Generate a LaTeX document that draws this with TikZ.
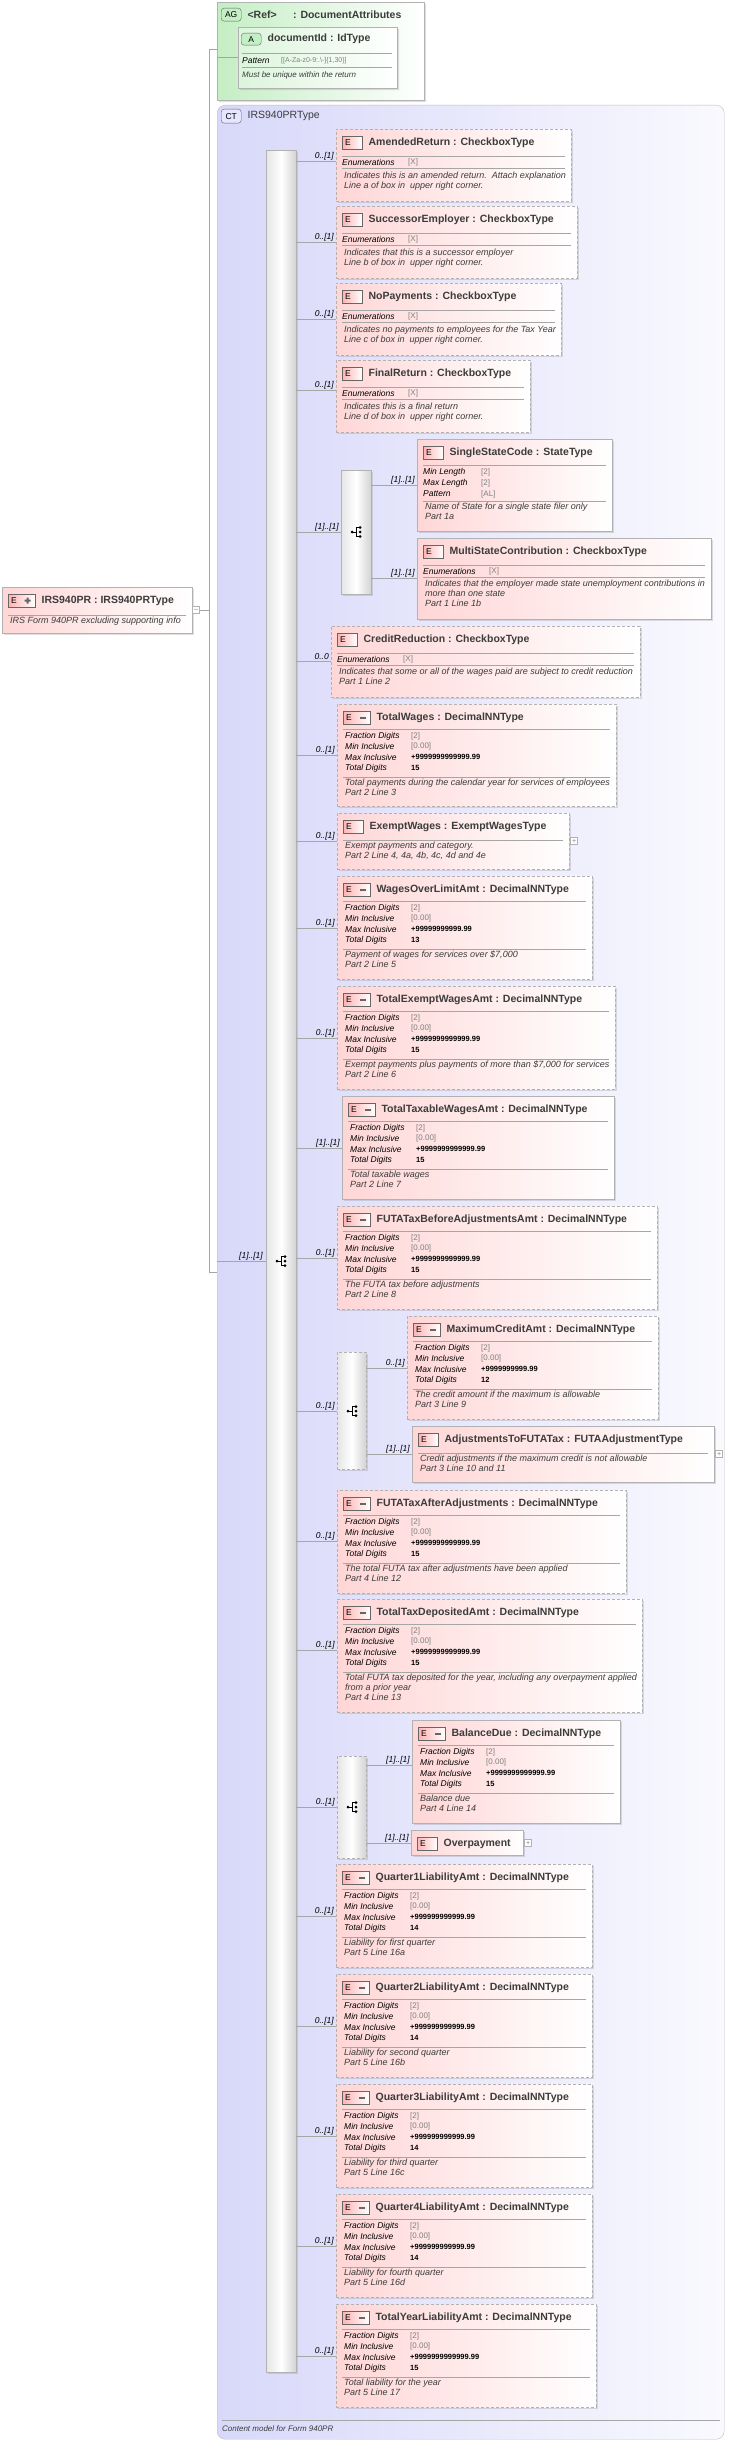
\documentclass[tikz,border=0pt]{standalone}
\usepackage{fontspec}
\setmainfont{Liberation Sans}
\usetikzlibrary{positioning,shapes.misc,shadows}

\definecolor{pinkbg}{RGB}{255,214,214}
\definecolor{lavbg}{RGB}{216,216,250}
\definecolor{greenbg}{RGB}{196,238,196}
\definecolor{darktxt}{RGB}{60,60,60}

\tikzset{
  box/.style={draw=gray!60, inner sep=0pt, anchor=north west,
    drop shadow={opacity=.25, shadow xshift=2pt, shadow yshift=-2pt}},
  ebox/.style={box, left color=pinkbg, right color=white},
  opt/.style={dash pattern=on 3pt off 2pt},
  bar/.style={box, left color=gray!20, right color=gray!35, middle color=white},
  eicon/.style={draw=gray!80!black, left color=red!30, right color=white, inner sep=0pt,
    minimum height=13pt, anchor=north west, font=\fontsize{8}{8}\selectfont},
  etitle/.style={anchor=west, inner sep=0pt, text=darktxt, font=\fontsize{10.5}{12}\selectfont\bfseries},
  fkey/.style={anchor=west, inner sep=0pt, font=\fontsize{8.5}{9}\selectfont\itshape},
  fval/.style={anchor=west, inner sep=0pt, text=gray, font=\fontsize{8}{9}\selectfont},
  fnum/.style={anchor=west, inner sep=0pt, font=\fontsize{7.5}{9}\selectfont\bfseries},
  desc/.style={anchor=north west, inner sep=0pt, align=left, text=darktxt,
    font=\fontsize{9}{10}\selectfont\itshape},
  sep/.style={draw=gray!70},
  conn/.style={draw=gray!70},
  mult/.style={inner sep=0pt, anchor=south east, font=\fontsize{8.5}{9}\selectfont\itshape},
  plusbox/.style={draw=gray!60, fill=white, minimum size=7pt, inner sep=0pt, anchor=west,
    font=\fontsize{7}{7}\selectfont, text=gray},
  pics/comp/.style={code={
    \fill (-6,0) circle (1.5);
    \draw (-6,0) -- (-2,0) (2,-4.5) -- (-2,-4.5) -- (-2,4.5) -- (2,4.5);
    \fill (2,-4.5) circle (1.5) (2,0) circle (1.5) (2,4.5) circle (1.5);
  }}
}

% element box header, separator lines, rows
\newcommand{\ehead}[3]{%
  \node[eicon, minimum width=#2] (#1-i) at ([shift={(6,7)}]#1.north west) {};
  \node[inner sep=0pt, font=\fontsize{8.5}{8}\selectfont] at ([xshift=6pt]#1-i.west) {E};
  \node[etitle] at ([xshift=6pt]#1-i.east) {#3};}
\newcommand{\minus}[1]{\fill[gray!80!black] ([shift={(3,-1)}]#1-i.center) rectangle ([shift={(9,1)}]#1-i.center);}
\newcommand{\hsep}[2]{\draw[sep] ([shift={(6,#2)}]#1.north west) -- ([shift={(-6,#2)}]#1.north east);}
\newcommand{\enumrow}[1]{%
  \hsep{#1}{27}\hsep{#1}{39}
  \node[fkey] at ([shift={(6,33)}]#1.north west) {Enumerations};
  \node[fval] at ([shift={(72,33)}]#1.north west) {[X]};}
\newcommand{\facets}[4]{%
  \hsep{#1}{25}\hsep{#1}{73}
  \node[fkey] at ([shift={(8,32)}]#1.north west) {Fraction Digits};
  \node[fval] at ([shift={(74,32)}]#1.north west) {[#2]};
  \node[fkey] at ([shift={(8,42)}]#1.north west) {Min Inclusive};
  \node[fval] at ([shift={(74,42)}]#1.north west) {[0.00]};
  \node[fkey] at ([shift={(8,53)}]#1.north west) {Max Inclusive};
  \node[fnum] at ([shift={(74,53)}]#1.north west) {#3};
  \node[fkey] at ([shift={(8,64)}]#1.north west) {Total Digits};
  \node[fnum] at ([shift={(74,64)}]#1.north west) {#4};}
\newcommand{\descr}[3]{\node[desc] at ([shift={(8,#2)}]#1.north west) {#3};}
\newcommand{\link}[4]{\draw[conn] (#1.east |- 0,#3) -- (#2.west |- 0,#3)
  node[mult, pos=1, xshift=-2pt, yshift=1pt] {#4};}

\begin{document}
\begin{tikzpicture}[x=1pt,y=-1pt]
  \useasboundingbox[fill=white] (0,0) rectangle (730,2443);

  % attribute group
  \node[box, chamfered rectangle, chamfered rectangle corners={north west,south west},
    chamfered rectangle xsep=0pt, chamfered rectangle ysep=0pt, chamfered rectangle sep=8pt,
    left color=greenbg, right color=white, minimum width=207pt, minimum height=98pt] (ag) at (217,2) {};
  \node[draw=gray!80!black, fill=greenbg, rounded corners=3pt, minimum width=20pt, minimum height=13pt,
    inner sep=0pt, font=\fontsize{8.5}{8}\selectfont, anchor=north west] (ag-i) at (221,8) {AG};
  \node[etitle] at ([xshift=6pt]ag-i.east) {<Ref>\quad\ \ : DocumentAttributes};
  \node[box, chamfered rectangle, chamfered rectangle corners={north west,south west},
    chamfered rectangle xsep=0pt, chamfered rectangle ysep=0pt, chamfered rectangle sep=6pt,
    left color=greenbg!60, right color=white, minimum width=159pt, minimum height=61pt] (attr) at (238,27) {};
  \node[draw=gray!80!black, fill=greenbg, rounded corners=3pt, minimum width=20pt, minimum height=12pt,
    inner sep=0pt, font=\fontsize{8.5}{8}\selectfont, anchor=north west] (attr-i) at (241,33) {A};
  \node[etitle] at ([xshift=6pt]attr-i.east) {documentId : IdType};
  \draw[sep] (242,53) -- (392,53);
  \draw[sep] (242,67) -- (392,67);
  \node[fkey] at (242,61) {Pattern};
  \node[fval, font=\fontsize{7}{8}\selectfont] at (281,61) {[[A-Za-z0-9:.\textbackslash-]\{1,30\}]};
  \node[desc, anchor=west, font=\fontsize{8}{8}\selectfont\itshape] at (242,75) {Must be unique within the return};
  \draw[conn] (ag.west |- 0,57) -- (attr.west |- 0,57);

  % complex type
  \node[draw=gray!50, inner sep=0pt, anchor=north west, rounded corners=8pt,
    left color=lavbg, right color=lavbg!15, minimum width=507pt, minimum height=2334pt] (ct) at (217,105) {};
  \node[draw=gray!80!black, fill=lavbg!80!blue!30, rounded corners=3pt, minimum width=20pt, minimum height=14pt,
    inner sep=0pt, font=\fontsize{8.5}{8}\selectfont, anchor=north west] (ct-i) at (221,109) {CT};
  \node[etitle, font=\fontsize{10.5}{12}\selectfont] at ([xshift=6pt]ct-i.east) {IRS940PRType};
  \draw[sep] (222,2420) -- (720,2420);
  \node[desc, anchor=west, font=\fontsize{8}{8}\selectfont\itshape] at (222,2429) {Content model for Form 940PR};

  % root element
  \node[ebox, minimum width=190pt, minimum height=46pt] (root) at (2,587) {};
  \ehead{root}{27pt}{IRS940PR : IRS940PRType}
  \fill[gray!80!black] ([shift={(3,-1)}]root-i.center) rectangle ([shift={(9,1)}]root-i.center)
    ([shift={(5,-3)}]root-i.center) rectangle ([shift={(7,3)}]root-i.center);
  \hsep{root}{28}
  \descr{root}{30}{IRS Form 940PR excluding supporting info}
  \node[plusbox] (rminus) at (root.east |- 0,610) {--};
  \draw[conn] (rminus.east) -- (209,610);
  \draw[conn] (ag.west |- 0,49) -| (209,1272) -- (ct.west |- 0,1272);

  % sequence bar
  \node[bar, minimum width=30pt, minimum height=2222pt] (seq) at (266,150) {};
  \pic at (283,1261) {comp};
  \draw[conn] (ct.west |- 0,1261) -- (seq.west |- 0,1261) node[mult, pos=1, xshift=-3pt, yshift=1pt] {[1]..[1]};

  % AmendedReturn
  \node[ebox, opt, minimum width=235pt, minimum height=72pt] (amended) at (336,129) {};
  \ehead{amended}{20pt}{AmendedReturn : CheckboxType}
  \enumrow{amended}
  \descr{amended}{43}{Indicates this is an amended return.\ \ Attach explanation\\Line a of box in\ \ upper right corner.}
  \link{seq}{amended}{161}{0..[1]}

  % SuccessorEmployer
  \node[ebox, opt, minimum width=241pt, minimum height=72pt] (successor) at (336,206) {};
  \ehead{successor}{20pt}{SuccessorEmployer : CheckboxType}
  \enumrow{successor}
  \descr{successor}{43}{Indicates that this is a successor employer\\Line b of box in\ \ upper right corner.}
  \link{seq}{successor}{242}{0..[1]}

  % NoPayments
  \node[ebox, opt, minimum width=225pt, minimum height=72pt] (nopay) at (336,283) {};
  \ehead{nopay}{20pt}{NoPayments : CheckboxType}
  \enumrow{nopay}
  \descr{nopay}{43}{Indicates no payments to employees for the Tax Year\\Line c of box in\ \ upper right corner.}
  \link{seq}{nopay}{319}{0..[1]}

  % FinalReturn
  \node[ebox, opt, minimum width=194pt, minimum height=72pt] (final) at (336,360) {};
  \ehead{final}{20pt}{FinalReturn : CheckboxType}
  \enumrow{final}
  \descr{final}{43}{Indicates this is a final return\\Line d of box in\ \ upper right corner.}
  \link{seq}{final}{390}{0..[1]}

  % state choice
  \node[bar, minimum width=30pt, minimum height=124pt] (statechoice) at (341,470) {};
  \pic at (358,532) {comp};
  \link{seq}{statechoice}{532}{[1]..[1]}

  \node[ebox, minimum width=195pt, minimum height=92pt] (single) at (417,439) {};
  \ehead{single}{20pt}{SingleStateCode : StateType}
  \hsep{single}{26}\hsep{single}{62}
  \node[fkey] at ([shift={(6,33)}]single.north west) {Min Length};
  \node[fval] at ([shift={(64,33)}]single.north west) {[2]};
  \node[fkey] at ([shift={(6,44)}]single.north west) {Max Length};
  \node[fval] at ([shift={(64,44)}]single.north west) {[2]};
  \node[fkey] at ([shift={(6,55)}]single.north west) {Pattern};
  \node[fval] at ([shift={(64,55)}]single.north west) {[AL]};
  \descr{single}{64}{Name of State for a single state filer only\\Part 1a}
  \link{statechoice}{single}{485}{[1]..[1]}

  \node[ebox, minimum width=294pt, minimum height=81pt] (multi) at (417,538) {};
  \ehead{multi}{20pt}{MultiStateContribution : CheckboxType}
  \enumrow{multi}
  \descr{multi}{42}{Indicates that the employer made state unemployment contributions in\\more than one state\\Part 1 Line 1b}
  \link{statechoice}{multi}{578}{[1]..[1]}

  % CreditReduction
  \node[ebox, opt, minimum width=309pt, minimum height=71pt] (credit) at (331,626) {};
  \ehead{credit}{20pt}{CreditReduction : CheckboxType}
  \enumrow{credit}
  \descr{credit}{42}{Indicates that some or all of the wages paid are subject to credit reduction\\Part 1 Line 2}
  \link{seq}{credit}{661}{0..0}

  % TotalWages
  \node[ebox, opt, minimum width=279pt, minimum height=102pt] (totwages) at (337,704) {};
  \ehead{totwages}{27pt}{TotalWages : DecimalNNType}\minus{totwages}
  \facets{totwages}{2}{+9999999999999.99}{15}
  \descr{totwages}{75}{Total payments during the calendar year for services of employees\\Part 2 Line 3}
  \link{seq}{totwages}{755}{0..[1]}

  % ExemptWages
  \node[ebox, opt, minimum width=232pt, minimum height=56pt] (exempt) at (337,813) {};
  \ehead{exempt}{20pt}{ExemptWages : ExemptWagesType}
  \hsep{exempt}{27}
  \descr{exempt}{29}{Exempt payments and category.\\Part 2 Line 4, 4a, 4b, 4c, 4d and 4e}
  \node[plusbox] at ([xshift=1pt]exempt.east |- 0,841) {+};
  \link{seq}{exempt}{841}{0..[1]}

  % WagesOverLimitAmt
  \node[ebox, opt, minimum width=255pt, minimum height=103pt] (wagesover) at (337,876) {};
  \ehead{wagesover}{27pt}{WagesOverLimitAmt : DecimalNNType}\minus{wagesover}
  \facets{wagesover}{2}{+99999999999.99}{13}
  \descr{wagesover}{75}{Payment of wages for services over \$7,000\\Part 2 Line 5}
  \link{seq}{wagesover}{928}{0..[1]}

  % TotalExemptWagesAmt
  \node[ebox, opt, minimum width=278pt, minimum height=103pt] (totexempt) at (337,986) {};
  \ehead{totexempt}{27pt}{TotalExemptWagesAmt : DecimalNNType}\minus{totexempt}
  \facets{totexempt}{2}{+9999999999999.99}{15}
  \descr{totexempt}{75}{Exempt payments plus payments of more than \$7,000 for services\\Part 2 Line 6}
  \link{seq}{totexempt}{1038}{0..[1]}

  % TotalTaxableWagesAmt
  \node[ebox, minimum width=272pt, minimum height=103pt] (taxable) at (342,1096) {};
  \ehead{taxable}{27pt}{TotalTaxableWagesAmt : DecimalNNType}\minus{taxable}
  \facets{taxable}{2}{+9999999999999.99}{15}
  \descr{taxable}{75}{Total taxable wages\\Part 2 Line 7}
  \link{seq}{taxable}{1148}{[1]..[1]}

  % FUTATaxBeforeAdjustmentsAmt
  \node[ebox, opt, minimum width=320pt, minimum height=103pt] (futabefore) at (337,1206) {};
  \ehead{futabefore}{27pt}{FUTATaxBeforeAdjustmentsAmt : DecimalNNType}\minus{futabefore}
  \facets{futabefore}{2}{+9999999999999.99}{15}
  \descr{futabefore}{75}{The FUTA tax before adjustments\\Part 2 Line 8}
  \link{seq}{futabefore}{1258}{0..[1]}

  % credit choice
  \node[bar, opt, minimum width=29pt, minimum height=117pt] (creditchoice) at (337,1352) {};
  \pic at (354,1411) {comp};
  \link{seq}{creditchoice}{1411}{0..[1]}

  \node[ebox, opt, minimum width=251pt, minimum height=103pt] (maxcredit) at (407,1316) {};
  \ehead{maxcredit}{27pt}{MaximumCreditAmt : DecimalNNType}\minus{maxcredit}
  \facets{maxcredit}{2}{+9999999999.99}{12}
  \descr{maxcredit}{75}{The credit amount if the maximum is allowable\\Part 3 Line 9}
  \link{creditchoice}{maxcredit}{1368}{0..[1]}

  \node[ebox, minimum width=302pt, minimum height=56pt] (adjust) at (412,1426) {};
  \ehead{adjust}{20pt}{AdjustmentsToFUTATax : FUTAAdjustmentType}
  \hsep{adjust}{27}
  \descr{adjust}{29}{Credit adjustments if the maximum credit is not allowable\\Part 3 Line 10 and 11}
  \node[plusbox] at ([xshift=1pt]adjust.east |- 0,1454) {+};
  \link{creditchoice}{adjust}{1454}{[1]..[1]}

  % FUTATaxAfterAdjustments
  \node[ebox, opt, minimum width=289pt, minimum height=103pt] (futaafter) at (337,1490) {};
  \ehead{futaafter}{27pt}{FUTATaxAfterAdjustments : DecimalNNType}\minus{futaafter}
  \facets{futaafter}{2}{+9999999999999.99}{15}
  \descr{futaafter}{75}{The total FUTA tax after adjustments have been applied\\Part 4 Line 12}
  \link{seq}{futaafter}{1541}{0..[1]}

  % TotalTaxDepositedAmt
  \node[ebox, opt, minimum width=305pt, minimum height=113pt] (deposited) at (337,1599) {};
  \ehead{deposited}{27pt}{TotalTaxDepositedAmt : DecimalNNType}\minus{deposited}
  \facets{deposited}{2}{+9999999999999.99}{15}
  \descr{deposited}{75}{Total FUTA tax deposited for the year, including any overpayment applied\\from a prior year\\Part 4 Line 13}
  \link{seq}{deposited}{1650}{0..[1]}

  % balance choice
  \node[bar, opt, minimum width=29pt, minimum height=102pt] (balchoice) at (337,1756) {};
  \pic at (354,1807) {comp};
  \link{seq}{balchoice}{1807}{0..[1]}

  \node[ebox, minimum width=208pt, minimum height=103pt] (balance) at (412,1720) {};
  \ehead{balance}{27pt}{BalanceDue : DecimalNNType}\minus{balance}
  \facets{balance}{2}{+9999999999999.99}{15}
  \descr{balance}{75}{Balance due\\Part 4 Line 14}
  \link{balchoice}{balance}{1765}{[1]..[1]}

  \node[ebox, minimum width=112pt, minimum height=25pt] (overpay) at (411,1830) {};
  \ehead{overpay}{20pt}{Overpayment}
  \node[plusbox] at ([xshift=1pt]overpay.east |- 0,1843) {+};
  \link{balchoice}{overpay}{1843}{[1]..[1]}

  % quarterly liabilities
  \node[ebox, opt, minimum width=256pt, minimum height=103pt] (q1) at (336,1864) {};
  \ehead{q1}{27pt}{Quarter1LiabilityAmt : DecimalNNType}\minus{q1}
  \facets{q1}{2}{+999999999999.99}{14}
  \descr{q1}{75}{Liability for first quarter\\Part 5 Line 16a}
  \link{seq}{q1}{1916}{0..[1]}

  \node[ebox, opt, minimum width=256pt, minimum height=103pt] (q2) at (336,1974) {};
  \ehead{q2}{27pt}{Quarter2LiabilityAmt : DecimalNNType}\minus{q2}
  \facets{q2}{2}{+999999999999.99}{14}
  \descr{q2}{75}{Liability for second quarter\\Part 5 Line 16b}
  \link{seq}{q2}{2026}{0..[1]}

  \node[ebox, opt, minimum width=256pt, minimum height=103pt] (q3) at (336,2084) {};
  \ehead{q3}{27pt}{Quarter3LiabilityAmt : DecimalNNType}\minus{q3}
  \facets{q3}{2}{+999999999999.99}{14}
  \descr{q3}{75}{Liability for third quarter\\Part 5 Line 16c}
  \link{seq}{q3}{2136}{0..[1]}

  \node[ebox, opt, minimum width=256pt, minimum height=103pt] (q4) at (336,2194) {};
  \ehead{q4}{27pt}{Quarter4LiabilityAmt : DecimalNNType}\minus{q4}
  \facets{q4}{2}{+999999999999.99}{14}
  \descr{q4}{75}{Liability for fourth quarter\\Part 5 Line 16d}
  \link{seq}{q4}{2246}{0..[1]}

  % TotalYearLiabilityAmt
  \node[ebox, opt, minimum width=260pt, minimum height=103pt] (totyear) at (336,2304) {};
  \ehead{totyear}{27pt}{TotalYearLiabilityAmt : DecimalNNType}\minus{totyear}
  \facets{totyear}{2}{+9999999999999.99}{15}
  \descr{totyear}{75}{Total liability for the year\\Part 5 Line 17}
  \link{seq}{totyear}{2356}{0..[1]}

\end{tikzpicture}
\end{document}
